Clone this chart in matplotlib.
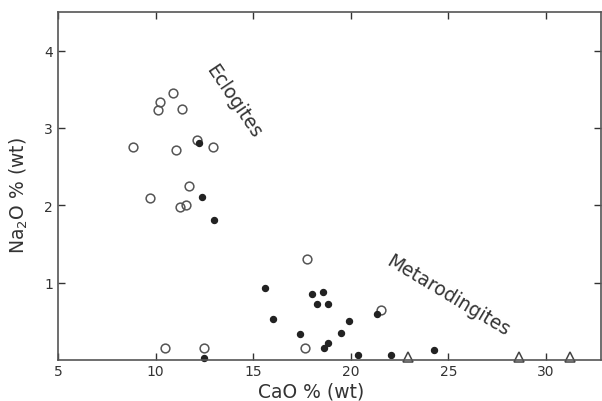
import matplotlib
matplotlib.use("Agg")
import matplotlib.pyplot as plt

# Open circles
open_cao = [8.83, 9.70, 10.14, 10.24, 10.90, 11.06, 11.36, 11.26, 11.55, 11.71, 12.14, 12.95,
            10.50, 12.50, 17.73, 17.63, 21.56]
open_na2o = [2.75, 2.10, 3.23, 3.33, 3.45, 2.72, 3.25, 1.98, 2.00, 2.25, 2.84, 2.75,
             0.15, 0.16, 1.30, 0.16, 0.64]

# Filled circles
fill_cao = [12.24, 12.38, 12.99, 12.49, 15.61, 16.00, 17.42, 18.03, 18.28, 18.59, 18.81,
            18.61, 18.81, 19.52, 19.91, 20.36, 21.32, 22.05, 24.27]
fill_na2o = [2.80, 2.11, 1.81, 0.02, 0.93, 0.53, 0.33, 0.85, 0.72, 0.88, 0.72,
             0.16, 0.22, 0.35, 0.50, 0.06, 0.59, 0.06, 0.13]

# Open triangles
tri_cao = [22.92, 28.61, 31.23]
tri_na2o = [0.04, 0.04, 0.04]

xticks = [5, 10, 15, 20, 25, 30]
yticks = [1, 2, 3, 4]

ink = "#333333"
fig = plt.figure(figsize=(6.02, 4.02), dpi=100)
ax = fig.add_axes([0.0963, 0.102, 0.9017, 0.866])

ax.plot(open_cao, open_na2o, linestyle="none", marker="o", markersize=6.3,
        markerfacecolor="none", markeredgecolor="#555555", markeredgewidth=1.1, clip_on=False)
ax.plot(fill_cao, fill_na2o, linestyle="none", marker="o", markersize=4.3,
        markerfacecolor="#222222", markeredgecolor="#222222", clip_on=False)
ax.plot(tri_cao, tri_na2o, linestyle="none", marker="^", markersize=7.5,
        markerfacecolor="none", markeredgecolor="#444444", markeredgewidth=1.1, clip_on=False)

ax.set_xlim(5, 32.8)
ax.set_ylim(0, 4.5)
ax.set_xticks(xticks)
ax.set_yticks(yticks)
ax.tick_params(direction="in", top=True, right=True, length=5, width=1, colors=ink,
               labelsize=10, labelcolor=ink)
ax.tick_params(axis="x", pad=3)
for s in ax.spines.values():
    s.set_color("#555555")
    s.set_linewidth(1.2)

ax.set_xlabel("CaO % (wt)", fontsize=13.5, color=ink)
ax.xaxis.set_label_coords(0.466, -0.063)
ax.set_ylabel("Na$_2$O % (wt)", fontsize=13.5, color=ink)
ax.yaxis.set_label_coords(-0.052, 0.474)

ax.text(14.0, 3.35, "Eclogites", rotation=-56, fontsize=13.5, color=ink,
        ha="center", va="center", rotation_mode="anchor")
ax.text(25.0, 0.84, "Metarodingites", rotation=-31, fontsize=13.5, color=ink,
        ha="center", va="center", rotation_mode="anchor")

fig.savefig("out.png", dpi=100)
